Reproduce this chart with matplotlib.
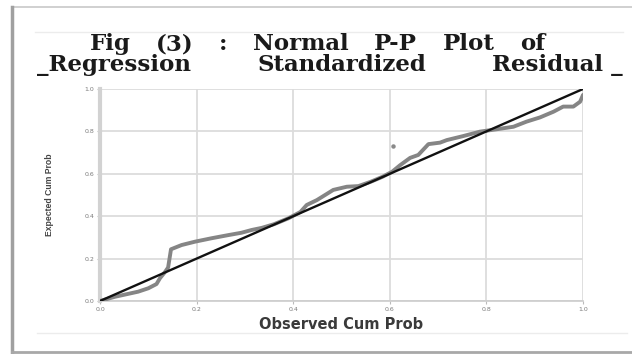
import matplotlib
matplotlib.use("Agg")
import matplotlib.pyplot as plt
from matplotlib.lines import Line2D

# ---- data ----
observed_cum_prob = [0.0, 0.031, 0.055, 0.079, 0.100, 0.117, 0.124, 0.135, 0.141,
                     0.147, 0.169, 0.197, 0.231, 0.266, 0.293, 0.314, 0.335, 0.360,
                     0.390, 0.415, 0.428, 0.449, 0.483, 0.511, 0.535, 0.560, 0.585,
                     0.605, 0.621, 0.642, 0.659, 0.680, 0.704, 0.718, 0.752, 0.787,
                     0.821, 0.856, 0.883, 0.911, 0.939, 0.959, 0.980, 0.994, 1.0]
expected_cum_prob = [0.0, 0.020, 0.032, 0.044, 0.060, 0.080, 0.107, 0.138, 0.158,
                     0.244, 0.264, 0.280, 0.296, 0.311, 0.322, 0.335, 0.345, 0.362,
                     0.390, 0.420, 0.453, 0.476, 0.524, 0.539, 0.542, 0.562, 0.586,
                     0.610, 0.640, 0.675, 0.689, 0.740, 0.747, 0.759, 0.778, 0.799,
                     0.810, 0.822, 0.846, 0.866, 0.893, 0.917, 0.917, 0.940, 0.972]
outlier_obs = [0.606]
outlier_exp = [0.731]
reference_line = [0.0, 1.0]
tick_values = [0.0, 0.2, 0.4, 0.6, 0.8, 1.0]
tick_labels = ["0.0", "0.2", "0.4", "0.6", "0.8", "1.0"]
title_line1_words = ["Fig", "(3)", ":", "Normal", "P-P", "Plot", "of"]
title_line2_words = ["_Regression", "Standardized", "Residual _"]
x_label = "Observed Cum Prob"
y_label = "Expected Cum Prob"

W, H = 632, 354
fig = plt.figure(figsize=(W / 100, H / 100), dpi=100)
fig.patch.set_facecolor("white")

# frame lines of the picture
def hline(y, x0, x1, color, lw):
    fig.add_artist(Line2D([x0 / W, x1 / W], [1 - y / H, 1 - y / H],
                          color=color, lw=lw, transform=fig.transFigure))

def vline(x, y0, y1, color, lw):
    fig.add_artist(Line2D([x / W, x / W], [1 - y0 / H, 1 - y1 / H],
                          color=color, lw=lw, transform=fig.transFigure))

hline(7, 12, 632, "#c8c8c8", 1.2)
vline(12, 7, 352, "#a0a0a0", 2.5)
hline(352, 12, 632, "#a8a8a8", 2.0)
hline(32, 35, 623, "#ececec", 1.0)
hline(333, 37, 627, "#ececec", 1.0)

# axes
left, right, top, bottom = 100, 583, 89, 301
ax = fig.add_axes([left / W, 1 - bottom / H, (right - left) / W, (bottom - top) / H])
ax.set_xlim(0, 1)
ax.set_ylim(0, 1)
ax.set_xticks(tick_values)
ax.set_yticks(tick_values)
ax.set_xticklabels(tick_labels)
ax.set_yticklabels(tick_labels)
ax.grid(True, color="#dcdcdc", lw=1.3)
ax.set_axisbelow(True)
for s in ["top", "right"]:
    ax.spines[s].set_visible(False)
ax.spines["left"].set_color("#d2d2d2")
ax.spines["left"].set_linewidth(3.0)
ax.spines["bottom"].set_color("#cccccc")
ax.spines["bottom"].set_linewidth(1.2)
ax.tick_params(axis="both", length=2.5, width=0.8, color="#bbbbbb",
               labelsize=4.5, labelcolor="#7a7a7a", pad=1.5)

ax.plot(observed_cum_prob, expected_cum_prob, color="#858585", lw=2.8,
        solid_capstyle="round", solid_joinstyle="round", zorder=3)
ax.plot(outlier_obs, outlier_exp, "o", color="#8a8a8a", ms=2.2, zorder=3)
ax.plot(reference_line, reference_line, color="#111111", lw=1.7, zorder=4)

ax.set_xlabel(x_label, fontsize=10.5, fontweight="bold", color="#3a3a3a",
              family="DejaVu Sans")
ax.xaxis.set_label_coords(0.5, -0.075)
ax.set_ylabel(y_label, fontsize=6.2, fontweight="bold", color="#444444",
              family="Liberation Sans")
ax.yaxis.set_label_coords(-0.095, 0.5)

# title: words spread over the (horizontally stretched) extent of the reference
renderer = fig.canvas.get_renderer()
title_kw = dict(fontsize=16.5, fontweight="bold", family="DejaVu Serif",
                color="#1a1a1a", va="baseline", ha="left")

def spread_line(words, x0, x1, y_base):
    texts = [fig.text(0, 1 - y_base / H, w, **title_kw) for w in words]
    widths = [t.get_window_extent(renderer).width for t in texts]
    # justify: equal gaps so the line runs from x0 to x1
    gap = (x1 - x0 - sum(widths)) / (len(words) - 1)
    x = x0
    for t, w in zip(texts, widths):
        t.set_x(x / W)
        x += w + gap

spread_line(title_line1_words, 90, 545, 50)
spread_line(title_line2_words, 37, 623, 71)

fig.savefig("out.png", dpi=100, facecolor="white")
